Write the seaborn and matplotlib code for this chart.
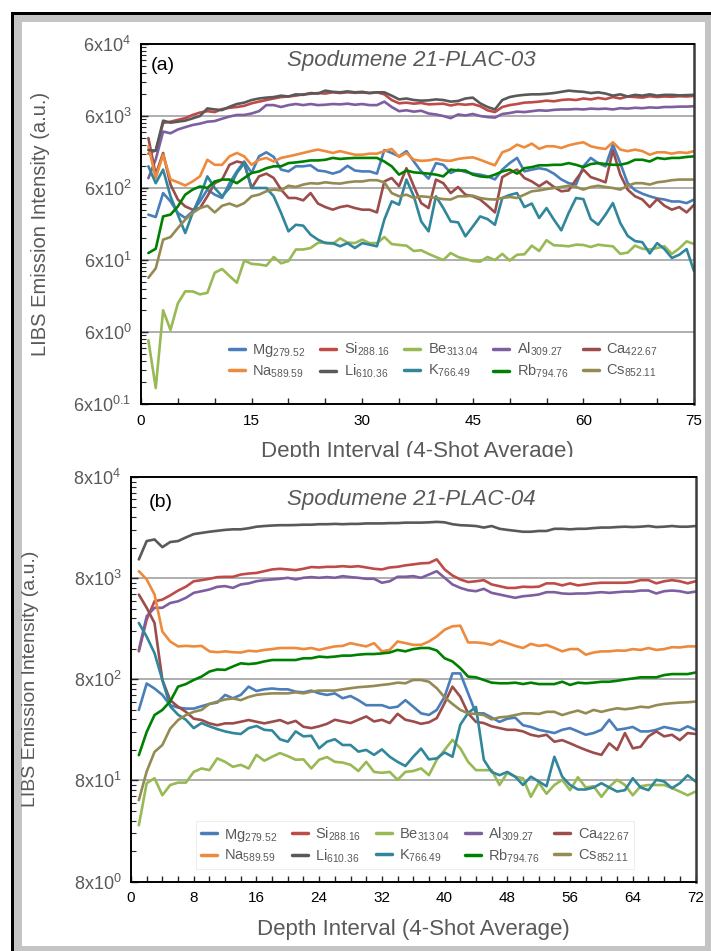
import numpy as np
import pandas as pd
import matplotlib
matplotlib.use("Agg")
import matplotlib.pyplot as plt
import seaborn as sns
from matplotlib.ticker import FixedLocator, MultipleLocator, NullFormatter
from matplotlib.lines import Line2D
from matplotlib.patches import Rectangle
from matplotlib.transforms import Bbox, TransformedBbox

# ------------------------------------------
# Series metadata
# ------------------------------------------
elements = ['Mg', 'Si', 'Be', 'Al', 'Ca', 'Na', 'Li', 'K', 'Rb', 'Cs']
wavelengths = ['279.52', '288.16', '313.04', '309.27', '422.67',
               '589.59', '610.36', '766.49', '794.76', '852.11']
colors = ['#4a7ebb', '#be4b48', '#98b954', '#7d5fa0', '#9b4d4b',
          '#ee8a3c', '#595959', '#31869b', '#008000', '#948a54']

# ------------------------------------------
# (a) Spodumene 21-PLAC-03, depth intervals 1..75
# ------------------------------------------
a_mg = [256, 237, 510, 392, 270, 230, 283, 392, 570, 485, 436, 700, 1020, 1400, 970, 1650, 1880, 1620, 1080, 1020,
        1200, 1200, 1240, 1050, 1020, 950, 1020, 1220, 1050, 1020, 1020, 950, 2020,
        1840, 1650, 1950, 1400, 1020, 810, 1330, 1260, 970, 1080, 1000, 950, 920, 870, 790, 1080, 1330, 1570, 1020,
        1080, 1130, 1080, 950, 790, 700, 670, 1200, 1570, 1330, 1200, 2400, 1330, 700, 560, 500, 460, 430, 415, 390,
        390, 370, 415]
a_si = [1800, 2000, 4800, 5000, 5300, 5600, 6200, 6700, 7000, 6800, 7500, 7800, 8000, 8300, 9000, 9500, 10000, 10500,
        11000, 11200, 11500, 12000, 12200, 12500, 12300, 12800, 12500, 12800, 12600, 12700, 12500, 12800, 12000,
        10000, 9000, 9200, 8900, 9100, 8700, 8800, 8900, 8400, 8800, 8600, 8800, 8200, 7200, 6800, 8000, 8500, 8800,
        9200, 9300, 9500, 9800, 9600, 10000, 10200, 10000, 10500, 10200, 10700, 10300, 11000, 10500, 11200, 11000,
        10800, 11300, 11000, 11200, 11100, 11300, 11200, 11400]
a_be = [4.6, 1.0, 12, 6.4, 15, 22, 22, 20, 21, 40, 45, 36, 29, 59, 53, 52, 50, 66, 54, 58, 84, 84, 88, 104, 105, 100,
        120, 105, 103, 115, 103, 103, 125,
        100, 97, 95, 80, 82, 73, 66, 60, 75, 66, 62, 58, 57, 66, 60, 73, 59, 71, 72, 95, 80, 113, 96, 95, 93, 98, 97,
        91, 98, 95, 93, 73, 76, 95, 86, 84, 88, 93, 73, 87, 109, 100]
a_al = [820, 1500, 3650, 3450, 3900, 4200, 4500, 4700, 5000, 5100, 5500, 5900, 6200, 6200, 6500, 7000, 8500, 8500,
        8000, 8500, 8800, 8500, 8800, 8500, 8600, 8800, 8700, 8900, 8600, 8800, 8500, 8500, 9500, 8000, 7000, 7200,
        6900, 7100, 6500, 6300, 6000, 5600, 6300, 6100, 6400, 6000, 5800, 5700, 6400, 6600, 6900, 6800, 7000, 7200,
        7100, 7300, 7400, 7400, 7500, 7400, 7600, 7500, 7600, 7400, 7700, 7600, 7800, 7700, 7900, 7800, 8000, 8000,
        8100, 8100, 8200]
a_ca = [2960, 920, 1840, 670, 415, 333, 300, 316, 460, 700, 786, 1260, 1400, 1330, 600, 870, 950, 826, 570, 436,
        436, 404, 510, 365, 326, 300, 326, 340, 316, 300, 300, 275, 740,
        826, 635, 1130, 635, 370, 316, 786, 700, 510, 620, 485, 460, 415, 340, 275, 850, 970, 1080, 826, 740, 635,
        740, 620, 540, 555, 786, 1080, 850, 786, 720, 2000, 920, 570, 460, 415, 326, 420, 340, 300, 326, 275, 350]
a_na = [2280, 830, 1740, 790, 720, 650, 740, 870, 1480, 1260, 1260, 1650, 1840, 1650, 1260, 1480, 1570, 1400, 1570,
        1650, 1740, 1840, 1950, 2050, 1950, 1840, 1950, 1840, 1740, 1740, 1800, 1800, 1950,
        2090, 1620, 1840, 1480, 1430, 1450, 1520, 1450, 1430, 1520, 1570, 1600, 1480, 1350, 1240, 1880, 2050, 2400,
        2200, 2480, 2100, 2280, 2280, 2160, 2350, 2480, 2590, 2280, 2160, 2090, 2590, 2050, 1950, 2050, 1950, 1740,
        1880, 1880, 1800, 1880, 1840, 1950]
a_li = [2020, 1980, 5170, 4850, 5000, 5170, 5560, 6000, 7650, 7400, 7250, 8070, 8800, 9200, 10000, 10500, 10800,
        11000, 11500, 11200, 12000, 11800, 12500, 12300, 13500, 13000, 12800, 13200, 12800, 13000, 12500, 12800,
        12800, 11500, 10200, 10500, 10000, 9800, 9900, 10200, 10000, 9500, 9700, 10500, 10800, 9000, 8000, 7400,
        10000, 11000, 11500, 11800, 12000, 12000, 12200, 12500, 13000, 13500, 13200, 13000, 12500, 12800, 12300,
        11500, 12000, 11200, 11800, 11500, 12000, 11500, 11800, 11800, 11600, 11700, 11800]
a_k = [1200, 700, 1080, 460, 256, 142, 270, 460, 870, 600, 460, 600, 970, 1330, 600, 600, 600, 460, 270, 150, 185,
       180, 135, 115, 103, 103, 93, 103, 88, 103, 98, 93, 218,
       392, 352, 786, 460, 206, 150, 460, 316, 206, 200, 128, 175, 242, 222, 185, 436, 480, 510, 326, 365, 230, 316,
       218, 155, 270, 436, 420, 222, 185, 256, 370, 196, 130, 110, 106, 74, 103, 85, 64, 71, 85, 42]
a_rb = [75, 86, 242, 256, 333, 485, 570, 630, 600, 740, 786, 786, 700, 826, 970, 1020, 1130, 1200, 1200, 1330, 1360,
        1400, 1450, 1450, 1480, 1570, 1520, 1550, 1570, 1570, 1570, 1570, 1400,
        1200, 920, 1050, 990, 970, 950, 920, 870, 1080, 1050, 1050, 920, 870, 850, 920, 1020, 1080, 950, 1130, 1170,
        1240, 1240, 1260, 1260, 1330, 1260, 1170, 1290, 1330, 1290, 1260, 1260, 1330, 1480, 1480, 1400, 1570, 1520,
        1570, 1570, 1620, 1650]
a_cs = [34, 46, 115, 125, 167, 218, 270, 316, 340, 275, 340, 365, 333, 370, 460, 485, 540, 570, 555, 645, 620, 670,
        700, 690, 720, 700, 690, 720, 740, 740, 770, 770, 720,
        510, 460, 485, 436, 460, 450, 436, 420, 415, 460, 460, 470, 436, 420, 415, 436, 450, 436, 485, 540, 555, 580,
        600, 620, 645, 620, 570, 620, 645, 620, 600, 570, 645, 700, 700, 670, 720, 740, 770, 786, 786, 786]

# ------------------------------------------
# (b) Spodumene 21-PLAC-04, depth intervals 1..72
# ------------------------------------------
b_mg = [398, 726, 648, 560, 443, 420, 410, 410, 433, 456, 470, 560, 519, 560, 676, 612, 636, 648, 636, 636, 603, 594,
        618, 580, 560, 580, 519, 546, 497, 443, 443, 443, 417, 428, 497, 428,
        368, 355, 398, 538, 914, 914, 580, 368, 368, 334, 303, 326, 334, 281, 270, 253, 244, 235, 253, 263, 244, 226,
        235, 253, 318, 253, 260, 270, 244, 244, 253, 270, 260, 250, 274, 253]
b_si = [1510, 3110, 4720, 4900, 5400, 6020, 6580, 7450, 7640, 7880, 8180, 8240, 8240, 8680, 8880, 9000, 9370, 9750,
        9900, 9750, 9600, 9900, 10300, 10200, 10350, 10350, 10500, 10350, 10500, 10200, 9900, 9750, 10200, 10350,
        10700, 10930,
        11200, 11300, 12260, 9750, 8500, 7760, 7320, 7450, 7640, 6930, 6660, 6400, 6400, 6580, 6530, 6580, 7100, 7100,
        6780, 7100, 6780, 6930, 7100, 7200, 7200, 7200, 7200, 7320, 7640, 7640, 7100, 7450, 7640, 7450, 7100, 7450]
b_be = [28.8, 75, 84, 57, 72, 76, 76, 97, 105, 101, 132, 122, 109, 114, 105, 143, 125, 137, 149, 139, 128, 129, 105,
        128, 136, 122, 120, 114, 99, 122, 97, 95, 97, 81, 97, 99, 105, 90, 128, 160, 201, 166, 122, 101, 101, 101, 72,
        95, 87, 84, 55, 76, 59, 72, 81, 64, 86, 68, 70, 55, 69, 81, 72, 57, 70, 72, 72, 72, 67, 62, 57, 62]
b_al = [1560, 3360, 4070, 4070, 4540, 4720, 5110, 5720, 5940, 6170, 6560, 6670, 6410, 6930, 7100, 7450, 7640, 7760,
        7880, 8060, 7760, 8060, 8190, 8060, 8190, 8060, 8370, 8190, 8060, 7880, 7880, 7200, 7450,
        8250, 8250, 8370, 8060, 8680, 9370, 8060, 6930, 6410, 6070, 5940, 6270, 5720, 5510, 5300, 5110, 5300, 5380,
        5510, 5810, 5810, 5640, 5590, 5640, 5640, 5720, 5810, 5720, 5810, 5890, 5890, 6030, 6030, 5640, 5940, 6030,
        5940, 5720, 5890]
b_ca = [5500, 4070, 2880, 787, 497, 428, 381, 326, 316, 293, 281, 293, 293, 304, 316, 304, 293, 304, 316, 293, 310,
        271, 263, 274, 290, 318, 306, 295, 318, 343, 306, 318, 295, 364, 318, 306, 290, 300, 330, 466, 676, 538, 368,
        303, 295, 274, 263, 253, 253, 244, 226, 218, 226, 193, 200, 186, 172, 160, 150, 143, 186, 160, 235, 166, 172,
        218, 244, 218, 226, 200, 235, 230]
b_na = [9370, 7760, 5510, 2370, 1890, 1690, 1710, 1690, 1710, 1510, 1480, 1510, 1480, 1470, 1530, 1510, 1560, 1590,
        1630, 1630, 1630, 1590, 1630, 1560, 1630, 1690, 1710, 1820, 1750, 1690, 1820, 1510, 1560,
        1890, 1820, 1750, 1750, 1890, 2120, 2470, 2670, 2710, 1850, 1850, 1820, 1750, 1930, 1820, 1710, 1630, 1790,
        1710, 1750, 1630, 1510, 1590, 1590, 1400, 1470, 1510, 1510, 1540, 1530, 1590, 1560, 1630, 1560, 1590, 1660,
        1650, 1690, 1690]
b_li = [12250, 18600, 19300, 16200, 18200, 18600, 20200, 21800, 22400, 23000, 23500, 24000, 24300, 24300, 24900,
        25800, 26200, 26500, 26700, 26700, 26800, 27000, 27000, 27300, 27300, 27500, 27300, 27500, 27500, 27800,
        27800, 27800, 28000, 28000, 28300, 28300,
        28300, 28500, 28800, 28500, 27300, 26700, 26500, 26200, 25300, 26200, 24600, 24000, 23500, 23000, 23000,
        23400, 23400, 24600, 24600, 24300, 24600, 24600, 25000, 25300, 25300, 25600, 25800, 25600, 25800, 26200,
        25600, 25800, 26200, 25800, 25800, 26200]
b_k = [2880, 2110, 1450, 787, 431, 357, 318, 263, 295, 274, 257, 244, 235, 230, 263, 276, 253, 249, 204, 193, 244,
       218, 221, 166, 193, 204, 179, 179, 154, 160, 143, 162, 137, 122, 111, 137, 165, 129, 132, 151, 137, 284, 372,
       425, 128, 97, 90, 97, 87, 72, 87, 78, 70, 137, 87, 72, 65, 65, 68, 75, 68, 62, 64, 84, 68, 64, 81, 78, 67, 75,
       90, 78]
b_rb = [142, 241, 354, 398, 483, 676, 717, 787, 850, 953, 1000, 990, 1070, 1150, 1130, 1150, 1200, 1240, 1240, 1240,
        1240, 1290, 1290, 1340, 1320, 1340, 1370, 1370, 1400, 1420, 1420, 1440, 1470,
        1560, 1510, 1590, 1630, 1630, 1540, 1290, 1200, 1030, 850, 836, 787, 740, 730, 730, 740, 717, 740, 717, 717,
        717, 756, 703, 740, 730, 740, 756, 756, 772, 796, 814, 836, 836, 836, 880, 900, 900, 900, 932]
b_cs = [51, 98, 153, 179, 260, 316, 354, 381, 398, 456, 481, 505, 517, 497, 534, 560, 572, 580, 580, 580, 594, 580,
        603, 618, 618, 618, 636, 652, 668, 676, 687, 703, 717,
        740, 730, 787, 787, 756, 652, 530, 456, 398, 368, 363, 354, 321, 336, 341, 354, 368, 368, 363, 381, 381, 354,
        374, 392, 368, 398, 381, 398, 413, 404, 413, 428, 421, 443, 456, 464, 470, 474, 481]

# y-axis decades (label text as printed on the figure)
a_yticks = [0.6, 6, 60, 600, 6000, 60000]
a_ylabels = ['6x10$^{0.1}$', '6x10$^{0}$', '6x10$^{1}$', '6x10$^{2}$', '6x10$^{3}$', '6x10$^{4}$']
b_yticks = [8, 80, 800, 8000, 80000]
b_ylabels = ['8x10$^{0}$', '8x10$^{1}$', '8x10$^{2}$', '8x10$^{3}$', '8x10$^{4}$']

labels = [f'{el}$_{{{wl}}}$' for el, wl in zip(elements, wavelengths)]
palette = dict(zip(labels, colors))


def to_long(series):
    frames = []
    for lab, vals in zip(labels, series):
        frames.append(pd.DataFrame({'depth': np.arange(1, len(vals) + 1),
                                    'intensity': vals, 'element': lab}))
    return pd.concat(frames, ignore_index=True)


df_a = to_long([a_mg, a_si, a_be, a_al, a_ca, a_na, a_li, a_k, a_rb, a_cs])
df_b = to_long([b_mg, b_si, b_be, b_al, b_ca, b_na, b_li, b_k, b_rb, b_cs])

sns.set_style('ticks')
plt.rcParams['font.family'] = ['Liberation Sans', 'DejaVu Sans']
plt.rcParams['mathtext.fontset'] = 'custom'
plt.rcParams['mathtext.rm'] = 'Liberation Sans'
plt.rcParams['mathtext.it'] = 'Liberation Sans:italic'
plt.rcParams['mathtext.default'] = 'regular'

W, H = 711, 951
fig = plt.figure(figsize=(W / 100, H / 100), dpi=100)
fig.patch.set_facecolor('white')

# picture frame: black edge, grey band, white sheet
for x0, y0, x1, y1, fc, z in [(11, 12, 720, 960, 'black', -10),
                              (13.5, 14.5, 720, 960, '#c4c4c4', -9),
                              (22, 22, 705, 946, 'white', -8)]:
    fig.patches.append(Rectangle((x0 / W, 1 - y1 / H), (x1 - x0) / W, (y1 - y0) / H,
                                 transform=fig.transFigure, facecolor=fc,
                                 edgecolor='none', zorder=z, figure=fig))

grey = '#595959'


def draw_panel(ax, df, xmax, xmajor, xminor, yticks, ylabels, title, tag,
               title_xy, tag_xy, leg_xy, leg_edge, ylab_x, xlab_y, ylab_size):
    sns.lineplot(data=df, x='depth', y='intensity', hue='element', hue_order=labels,
                 palette=palette, linewidth=1.9, errorbar=None, legend=False, ax=ax)
    ax.set_yscale('log')
    ax.set_xlim(0, xmax)
    ax.set_ylim(yticks[0], yticks[-1])
    ax.yaxis.set_major_locator(FixedLocator(yticks))
    ax.yaxis.set_minor_locator(FixedLocator([k * t for t in yticks[:-1] for k in range(2, 10)]))
    ax.yaxis.set_minor_formatter(NullFormatter())
    ax.set_yticklabels(ylabels)
    ax.xaxis.set_major_locator(MultipleLocator(xmajor))
    ax.xaxis.set_minor_locator(MultipleLocator(xminor))
    ax.tick_params(axis='y', which='both', direction='in', left=True, right=False,
                   labelsize=13, labelcolor=grey, pad=7)
    ax.tick_params(axis='y', which='major', length=5, width=1)
    ax.tick_params(axis='y', which='minor', length=3.5, width=0.8)
    ax.tick_params(axis='x', which='both', direction='in', bottom=True, top=False,
                   length=4, width=1, labelsize=11, labelcolor='black', pad=7)
    for y in yticks[1:-1]:
        ax.axhline(y, color='#a8a8a8', linewidth=1.3, zorder=0.5)
    for side in ['left', 'bottom', 'top']:
        ax.spines[side].set_color('black')
        ax.spines[side].set_linewidth(1.4)
    ax.spines['right'].set_color('#3a3a3a')
    ax.spines['right'].set_linewidth(1.8)

    ax.set_xlabel('Depth Interval (4-Shot Average)', fontsize=16, color=grey)
    ax.set_ylabel('LIBS Emission Intensity (a.u.)', fontsize=ylab_size, color=grey)
    ax.xaxis.set_label_coords(0.5, xlab_y)
    ax.yaxis.set_label_coords(ylab_x, 0.5)

    ax.text(*title_xy, title, transform=ax.transAxes, ha='center', va='center',
            fontsize=16, style='italic', color=grey)
    ax.text(*tag_xy, tag, transform=ax.transAxes, ha='left', va='center',
            fontsize=14, color='black')

    handles = [Line2D([], [], color=palette[lab], linewidth=2.5) for lab in labels]
    order = [0, 5, 1, 6, 2, 7, 3, 8, 4, 9]
    leg = ax.legend([handles[i] for i in order], [labels[i] for i in order], ncol=5,
                    loc='center', bbox_to_anchor=leg_xy, fontsize=10.5, frameon=True,
                    fancybox=False, framealpha=1, facecolor='white', edgecolor=leg_edge,
                    handlelength=1.1, handletextpad=0.5, columnspacing=1.0,
                    labelspacing=0.3, borderpad=0.3, labelcolor=grey)
    leg.get_frame().set_linewidth(0.8)


ax_a = fig.add_axes([141 / W, 1 - 404 / H, 553 / W, 360 / H])
draw_panel(ax_a, df_a, 75, 15, 5, a_yticks, a_ylabels, 'Spodumene 21-PLAC-03', '(a)',
           (0.488, 0.953), (0.018, 0.940), (0.547, 0.121), 'white', -0.165, -0.103, 14.5)

ax_b = fig.add_axes([131 / W, 1 - 881.5 / H, 564.5 / W, 404.5 / H])
draw_panel(ax_b, df_b, 72, 8, 2, b_yticks, b_ylabels, 'Spodumene 21-PLAC-04', '(b)',
           (0.496, 0.944), (0.032, 0.938), (0.503, 0.090), '#eeeeee', -0.163, -0.093, 14)

# panel (a) axis title is cut off by the top of panel (b) in the source figure
lbl = ax_a.xaxis.label
lbl.set_clip_box(TransformedBbox(Bbox([[0, 1 - 457 / H], [1, 1]]), fig.transFigure))
lbl.set_clip_on(True)

fig.savefig('out.png', dpi=100)
